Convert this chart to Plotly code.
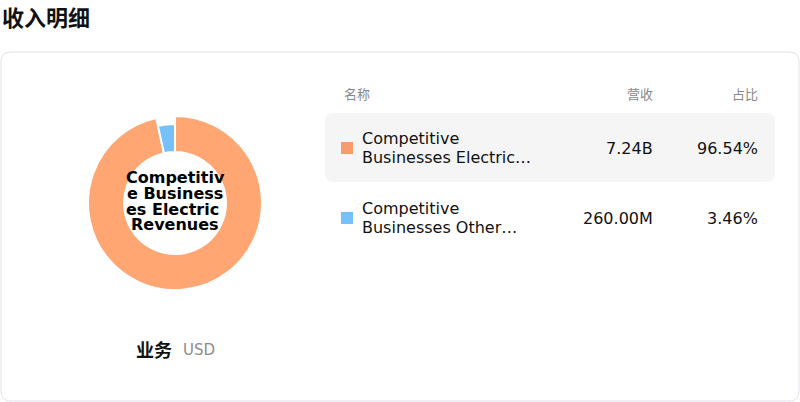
import plotly.graph_objects as go

W, H = 800, 402

# --- data ---
names = ["Competitive Businesses Electric Revenues", "Competitive Businesses Other Revenues"]
name_lines = [["Competitive", "Businesses Electric…"], ["Competitive", "Businesses Other…"]]
revenues = [7.24e9, 260.00e6]
shares = [96.54, 3.46]
center_lines = ["Competitiv", "e Business", "es Electric ", "Revenues"]
headers = ["名称", "营收", "占比"]
title = "收入明细"
unit_label = "业务"
currency = "USD"

pie_colors = ["#FFA673", "#76C1FA"]
key_colors = ["#F99C6C", "#76C1FA"]
FONT = "DejaVu Sans, Noto Sans CJK SC, sans-serif"


def px(x):
    return x / W


def py(y):
    return 1 - y / H


def rrect(x0, y0, x1, y1, r):
    # rounded rect path in paper coords from pixel box
    pts = [
        f"M {px(x0 + r)} {py(y0)}",
        f"L {px(x1 - r)} {py(y0)}",
        f"Q {px(x1)} {py(y0)} {px(x1)} {py(y0 + r)}",
        f"L {px(x1)} {py(y1 - r)}",
        f"Q {px(x1)} {py(y1)} {px(x1 - r)} {py(y1)}",
        f"L {px(x0 + r)} {py(y1)}",
        f"Q {px(x0)} {py(y1)} {px(x0)} {py(y1 - r)}",
        f"L {px(x0)} {py(y0 + r)}",
        f"Q {px(x0)} {py(y0)} {px(x0 + r)} {py(y0)}",
        "Z",
    ]
    return " ".join(pts)


def fmt_rev(v):
    if v >= 1e9:
        return f"{v / 1e9:.2f}B"
    return f"{v / 1e6:.2f}M"


def label(x, y, text, size, color="#111", anchor="left", bold=False, family=FONT):
    if bold:
        text = f"<b>{text}</b>"
    return dict(
        x=px(x), y=py(y), xref="paper", yref="paper", text=text, showarrow=False,
        xanchor=anchor, yanchor="middle", font=dict(size=size, color=color, family=family),
    )


fig = go.Figure()

# donut: orange slice drawn larger, blue slice on a smaller ring
cx, cy = 175, 203
for i, (r_out, r_in) in enumerate([(87, 51), (79, 51)]):
    cols = ["rgba(0,0,0,0)"] * len(names)
    widths = [0] * len(names)
    cols[i] = pie_colors[i]
    widths[i] = 2
    fig.add_trace(go.Pie(
        labels=names, values=revenues, sort=False, direction="clockwise",
        hole=r_in / r_out, textinfo="none", hoverinfo="skip", showlegend=False,
        marker=dict(colors=cols, line=dict(color="white", width=widths)),
        domain=dict(x=[px(cx - r_out), px(cx + r_out)], y=[py(cy + r_out), py(cy - r_out)]),
    ))

shapes = [
    dict(type="path", xref="paper", yref="paper", path=rrect(1, 52, 799, 401, 10),
         line=dict(color="#E2E0EA", width=1), fillcolor="rgba(0,0,0,0)", layer="below"),
    dict(type="path", xref="paper", yref="paper", path=rrect(325, 113, 775, 182, 9),
         line=dict(width=0), fillcolor="#F5F5F5", layer="below"),
]

ann = [label(0, 16, title, 22, "#111", bold=True, family="Noto Sans CJK SC, DejaVu Sans")]
for y, t in zip([177, 193, 209, 225], center_lines):
    ann.append(label(cx, y, t, 16, "#000", anchor="center", bold=True))

ann.append(label(342, 95, headers[0], 13, "#888"))
ann.append(label(655, 95, headers[1], 13, "#888", anchor="right"))
ann.append(label(760, 95, headers[2], 13, "#888", anchor="right"))

row_y = [148, 218]
for i in range(len(names)):
    y = row_y[i]
    shapes.append(dict(type="rect", xref="paper", yref="paper",
                       x0=px(341), x1=px(353), y0=py(y + 6), y1=py(y - 6),
                       fillcolor=key_colors[i], line=dict(width=0)))
    ann.append(label(360, y - 10, name_lines[i][0], 16, "#111"))
    ann.append(label(360, y + 9, name_lines[i][1], 16, "#111"))
    ann.append(label(655, y, fmt_rev(revenues[i]), 16, "#111", anchor="right"))
    ann.append(label(760, y, f"{shares[i]:.2f}%", 16, "#111", anchor="right"))

ann.append(label(134, 349, unit_label, 18, "#111", bold=True, family="Noto Sans CJK SC, DejaVu Sans"))
ann.append(label(181, 350, currency, 15, "#8C8C8C"))

fig.update_layout(
    width=W, height=H, margin=dict(l=0, r=0, t=0, b=0),
    paper_bgcolor="white", plot_bgcolor="white",
    shapes=shapes, annotations=ann, font=dict(family=FONT),
)

fig.write_html("out.html", config={"displayModeBar": False},
               post_script="document.body.style.margin='0';")
